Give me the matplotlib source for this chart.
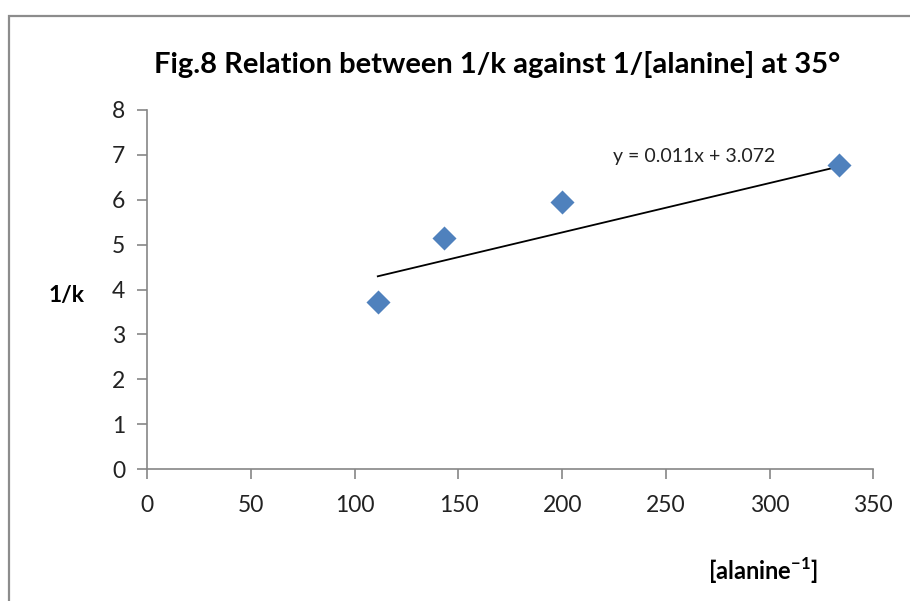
import numpy as np
import matplotlib
matplotlib.use("Agg")
import matplotlib.pyplot as plt
from matplotlib.patches import Rectangle

plt.rcParams['font.family'] = ['Lato', 'DejaVu Sans']

# 1/[alanine] and 1/k values
inv_alanine = [111.1, 142.9, 200.0, 333.3]
inv_k = [3.72, 5.15, 5.95, 6.77]

# linear trend reported on the chart
slope = 0.011
intercept = 3.072

x_ticks = [0, 50, 100, 150, 200, 250, 300, 350]
y_ticks = [0, 1, 2, 3, 4, 5, 6, 7, 8]

fig = plt.figure(figsize=(9.10, 6.01), dpi=100)
ax = fig.add_axes([0.1619, 0.2196, 0.7978, 0.5974])

# chart frame (only top and left edges fall inside the image)
fig.patches.append(Rectangle((9 / 910, -0.1), 1.2, (601 - 16) / 601 + 0.1,
                             transform=fig.transFigure, fill=False,
                             edgecolor='#8c8c8c', linewidth=1.6))

ax.scatter(inv_alanine, inv_k, marker='D', s=150, color='#4F81BD', zorder=3,
           linewidths=0)

xfit = np.array([min(inv_alanine), max(inv_alanine)])
ax.plot(xfit, slope * xfit + intercept, color='black', linewidth=1.3, zorder=2)

ax.set_xlim(0, 350)
ax.set_ylim(0, 8)
ax.set_xticks(x_ticks)
ax.set_yticks(y_ticks)
for s in ['top', 'right']:
    ax.spines[s].set_visible(False)
for s in ['left', 'bottom']:
    ax.spines[s].set_color('#868686')
    ax.spines[s].set_linewidth(1.2)
ax.tick_params(axis='both', direction='out', length=7, width=1.2,
               color='#868686', labelsize=16.5, labelcolor='#222222')
ax.tick_params(axis='x', pad=12)
ax.tick_params(axis='y', pad=9)

fig.text(0.546, 0.892, 'Fig.8 Relation between 1/k against 1/[alanine] at 35°',
         ha='center', va='center', fontsize=21, fontweight='bold')
fig.text(0.073, 0.509, '1/k', ha='center', va='center', fontsize=16.5,
         fontweight='bold')
fig.text(0.839, 0.050, r'[alanine$^{\mathregular{-1}}$]', ha='center',
         va='center', fontsize=17, fontweight='bold')
fig.text(0.674, 0.739, 'y = 0.011x + 3.072', ha='left', va='center',
         fontsize=14, color='#222222')

fig.savefig('out.png', dpi=100)
